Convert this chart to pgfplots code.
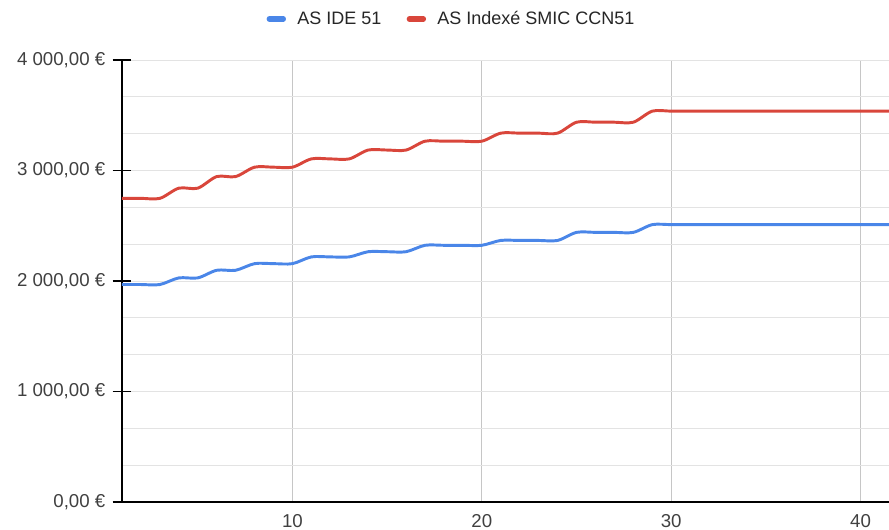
\documentclass[border=0pt]{standalone}
\usepackage{fontspec}
\setmainfont{Liberation Sans}
\usepackage{pgfplots}
\pgfplotsset{compat=1.18}

\definecolor{ideblue}{HTML}{4A86E8}
\definecolor{smicred}{HTML}{D9463B}

\begin{document}
\begin{tikzpicture}
\begin{axis}[
    at={(0,0)}, anchor=south west,
    scale only axis,
    width=575.25pt, height=331.5pt,
    xmin=1, xmax=41.5,
    ymin=0, ymax=4000,
    axis x line*=bottom, axis y line*=left,
    axis line style={black, line width=1pt},
    xtick={10,20,30,40},
    ytick={0,1000,2000,3000,4000},
    yticklabels={{0,00 €},{1 000,00 €},{2 000,00 €},{3 000,00 €},{4 000,00 €}},
    minor y tick num=2,
    tick align=center,
    major tick length=14pt,
    minor tick length=0pt,
    xtick style={draw=none},
    ytick style={black, line width=1pt},
    xmajorgrids, ymajorgrids, yminorgrids,
    x grid style={gray!45, line width=0.6pt},
    y grid style={gray!22, line width=0.6pt},
    minor y grid style={gray!22, line width=0.6pt},
    ticklabel style={font=\fontsize{14}{16}\selectfont, text=black!75},
    /pgf/number format/assume math mode=true,
    xticklabel shift=-1.5pt,
    yticklabel shift=2pt,
    legend style={at={(rel axis cs:0.183,1.093)}, anchor=west, draw=none, fill=none,
        font=\fontsize{13.5}{16}\selectfont, text=black!85, legend columns=2,
        /tikz/every even column/.append style={column sep=17pt}},
    legend image code/.code={\draw[line width=4pt, line cap=round, #1] (0.05cm,0cm) -- (0.42cm,0cm);
        \path (0.68cm,0cm);},
]

% AS IDE 51
\addplot[color=ideblue, line width=2.2pt, smooth, tension=0.5] coordinates {
    (1,1968) (2,1968) (3,1968) (4,2028) (5,2028) (6,2097) (7,2097)
    (8,2157) (9,2157) (10,2157) (11,2218) (12,2218) (13,2218)
    (14,2265) (15,2265) (16,2265) (17,2323) (18,2323) (19,2323) (20,2323)
    (21,2367) (22,2367) (23,2367) (24,2367) (25,2440) (26,2440) (27,2440) (28,2440)
    (29,2510) (30,2510) (31,2510) (32,2510) (33,2510) (34,2510) (35,2510)
    (36,2510) (37,2510) (38,2510) (39,2510) (40,2510) (41,2510) (42,2510)
};

% AS Indexe SMIC CCN51
\addplot[color=smicred, line width=2.2pt, smooth, tension=0.5] coordinates {
    (1,2748) (2,2748) (3,2748) (4,2840) (5,2840) (6,2945) (7,2945)
    (8,3030) (9,3030) (10,3030) (11,3105) (12,3105) (13,3105)
    (14,3185) (15,3185) (16,3185) (17,3265) (18,3265) (19,3265) (20,3265)
    (21,3338) (22,3338) (23,3338) (24,3338) (25,3437) (26,3437) (27,3437) (28,3437)
    (29,3537) (30,3537) (31,3537) (32,3537) (33,3537) (34,3537) (35,3537)
    (36,3537) (37,3537) (38,3537) (39,3537) (40,3537) (41,3537) (42,3537)
};

\legend{AS IDE 51, AS Indexé SMIC CCN51}
\end{axis}
\pgfresetboundingbox
\path[use as bounding box] (-91.5pt,-21pt) rectangle (575.25pt,376.5pt);
\end{tikzpicture}
\end{document}
